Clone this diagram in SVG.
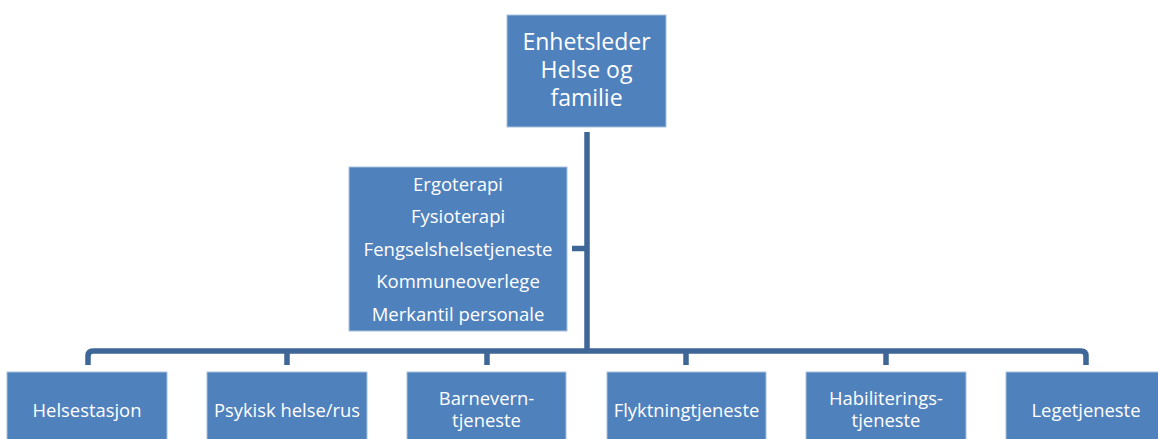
<svg xmlns="http://www.w3.org/2000/svg" width="1158" height="439" viewBox="0 0 1158 439">
  <style>
    .box { fill: #4F81BD; stroke: #A9C1DE; stroke-width: 1; }
    .t { fill: #FFFFFF; font-family: "Open Sans", "Noto Sans", sans-serif; text-anchor: middle; }
    .t24 { font-size: 23px; }
    .t18 { font-size: 18.4px; }
    .t17 { font-size: 18.5px; }
    .conn { fill: none; stroke: #3E6696; stroke-width: 5.5; }
  </style>
  <rect width="1158" height="439" fill="#FFFFFF"/>
  <g id="connectors">
    <line class="conn" x1="587" y1="132" x2="587" y2="351"/>
    <line class="conn" x1="572" y1="248.5" x2="587" y2="248.5"/>
    <path class="conn" d="M88 365 V356 Q88 351 93 351 H1081 Q1086 351 1086 356 V365"/>
    <line class="conn" x1="287" y1="351" x2="287" y2="365"/>
    <line class="conn" x1="487" y1="351" x2="487" y2="365"/>
    <line class="conn" x1="686" y1="351" x2="686" y2="365"/>
    <line class="conn" x1="886" y1="351" x2="886" y2="365"/>
  </g>
  <g id="enhetsleder">
    <rect class="box" x="507" y="15" width="159" height="112"/>
    <text class="t t24" x="586.5" y="49.5">Enhetsleder</text>
    <text class="t t24" x="586.5" y="77.5">Helse og</text>
    <text class="t t24" x="586.5" y="106">familie</text>
  </g>
  <g id="stab">
    <rect class="box" x="349" y="167" width="218" height="164"/>
    <text class="t t17" x="458" y="190.5">Ergoterapi</text>
    <text class="t t17" x="458" y="223">Fysioterapi</text>
    <text class="t t17" x="458" y="255.5">Fengselshelsetjeneste</text>
    <text class="t t17" x="458" y="288">Kommuneoverlege</text>
    <text class="t t17" x="458" y="320.5">Merkantil personale</text>
  </g>
  <g id="helsestasjon">
    <rect class="box" x="7" y="372" width="160" height="80"/>
    <text class="t t18" x="87" y="416.5">Helsestasjon</text>
  </g>
  <g id="psykisk">
    <rect class="box" x="207" y="372" width="160" height="80"/>
    <text class="t t18" x="287" y="416.5">Psykisk helse/rus</text>
  </g>
  <g id="barnevern">
    <rect class="box" x="407" y="372" width="159" height="80"/>
    <text class="t t18" x="486.5" y="404.5">Barnevern-</text>
    <text class="t t18" x="486.5" y="426.5">tjeneste</text>
  </g>
  <g id="flyktning">
    <rect class="box" x="607" y="372" width="159" height="80"/>
    <text class="t t18" x="686.5" y="416.5">Flyktningtjeneste</text>
  </g>
  <g id="habilitering">
    <rect class="box" x="806" y="372" width="160" height="80"/>
    <text class="t t18" x="886" y="404.5">Habiliterings-</text>
    <text class="t t18" x="886" y="426.5">tjeneste</text>
  </g>
  <g id="lege">
    <rect class="box" x="1006" y="372" width="160" height="80"/>
    <text class="t t18" x="1086" y="416.5">Legetjeneste</text>
  </g>
</svg>
